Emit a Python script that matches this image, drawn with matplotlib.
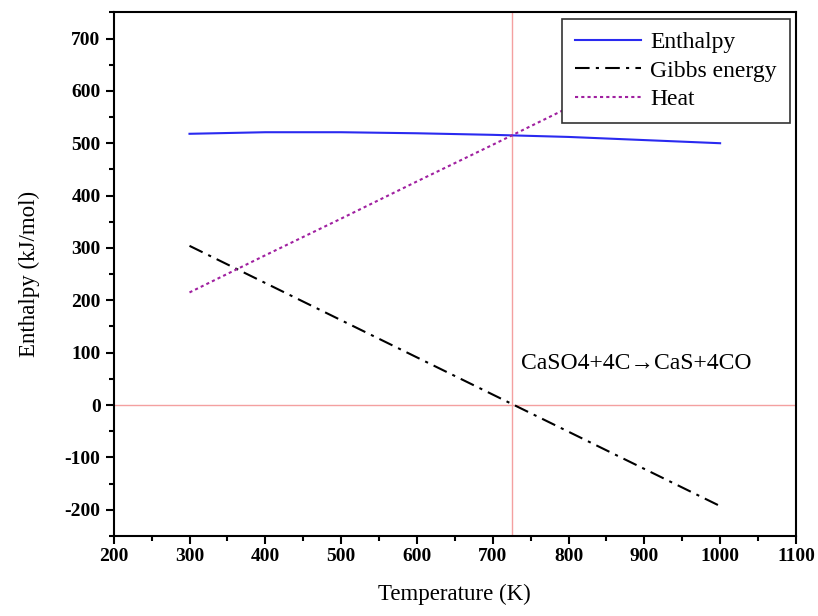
import matplotlib.pyplot as plt
from matplotlib.ticker import MultipleLocator

plt.rcParams['font.family'] = ['Liberation Serif', 'DejaVu Serif']
plt.rcParams['axes.unicode_minus'] = False

temperature = [300, 400, 500, 600, 700, 800, 900, 1000]
enthalpy = [518, 521, 521, 519, 516, 512, 506, 500]
gibbs = [304, 233, 162, 91, 20, -51, -122, -193]
heat = [215, 286, 356, 427, 497, 568, 638, 709]
t_zero = 725

fig = plt.figure(figsize=(8.18, 6.16), dpi=100)
ax = fig.add_axes([0.139, 0.130, 0.834, 0.850])

ax.axvline(t_zero, color='#f4a0a0', lw=1)
ax.axhline(0, color='#f4a0a0', lw=1)

ax.plot(temperature, enthalpy, color='#2a2af0', lw=1.5, label='Enthalpy')
ax.plot(temperature, gibbs, color='black', lw=1.5, ls=(0, (7, 3, 1.5, 3)), label='Gibbs energy')
ax.plot(temperature, heat, color='#a020a0', lw=1.5, ls=(0, (1.5, 1.5)), label='Heat')

ax.text(890, 80, 'CaSO4+4C\u2192CaS+4CO', fontsize=17, ha='center', va='center')

ax.set_xlim(200, 1100)
ax.set_ylim(-250, 750)
ax.xaxis.set_major_locator(MultipleLocator(100))
ax.xaxis.set_minor_locator(MultipleLocator(50))
ax.yaxis.set_minor_locator(MultipleLocator(50))
ax.set_yticks(range(-200, 701, 100))
ax.tick_params(which='major', direction='out', length=6, width=1.5, labelsize=14)
ax.tick_params(axis='x', which='major', pad=2.5)
ax.tick_params(which='minor', direction='out', length=3.5, width=1.5)
for lbl in ax.get_xticklabels() + ax.get_yticklabels():
    lbl.set_fontweight('bold')
for sp in ax.spines.values():
    sp.set_linewidth(1.5)

ax.set_xlabel('Temperature (K)', fontsize=16.5, labelpad=14)
ax.set_ylabel('Enthalpy (kJ/mol)', fontsize=16.5, labelpad=18)

leg = ax.legend(loc='upper right', fontsize=17, fancybox=False, framealpha=1,
                edgecolor='#333333', handlelength=2.8, borderpad=0.55,
                labelspacing=0.3, handletextpad=0.4, borderaxespad=0,
                bbox_to_anchor=(0.991, 0.988))
leg.get_frame().set_linewidth(1.2)

fig.savefig('out.png', dpi=100)
